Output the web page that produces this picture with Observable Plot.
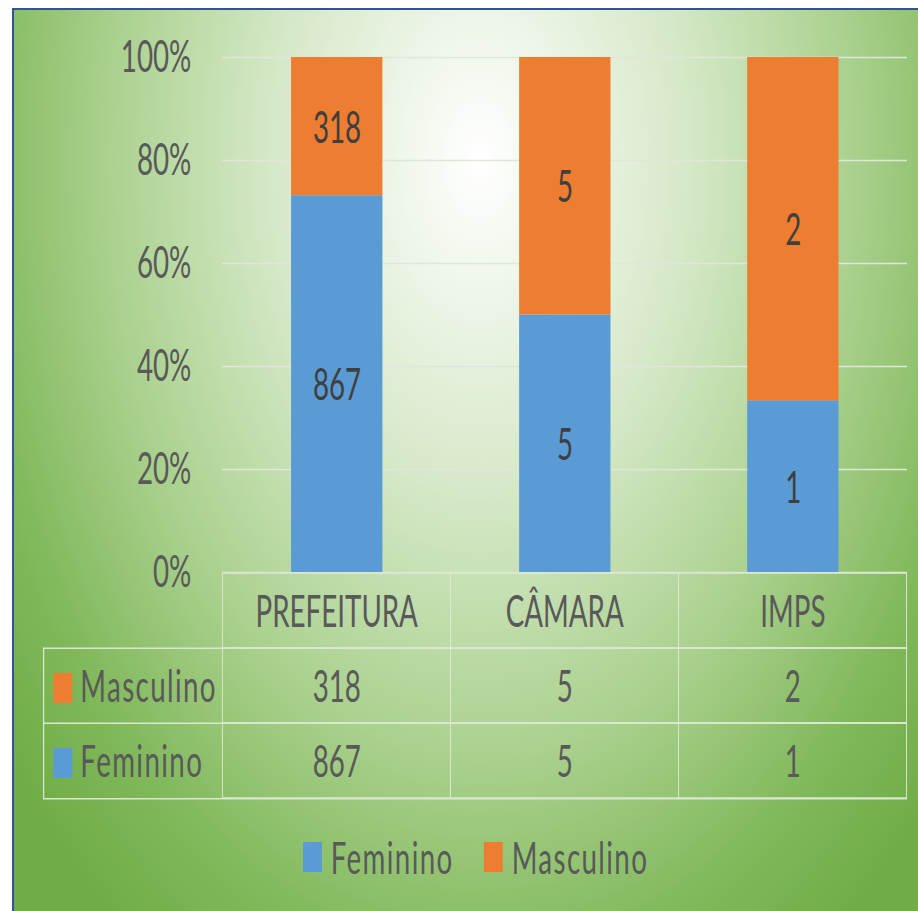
<!DOCTYPE html>
<html><head><meta charset="utf-8">
<script src="https://cdn.jsdelivr.net/npm/d3@7"></script>
<script src="https://cdn.jsdelivr.net/npm/@observablehq/plot@0.6"></script>
<style>
html,body{margin:0;padding:0;background:#fff;}
#page{position:relative;width:918px;height:911px;overflow:hidden;background:#fff;}
#bg{position:absolute;left:12px;top:8px;right:0;bottom:0;border-left:2px solid #2f5597;border-top:2px solid #2f5597;
  background:radial-gradient(ellipse 600px 960px at 466px 150px,#ffffff 0%,#f1f7ec 12%,#d5e8c7 35%,#aad18e 62%,#80b85a 85%,#70ad47 100%);}
#stage{position:absolute;left:0;top:0;height:911px;transform-origin:0 0;}
#stage > *{position:absolute;}
#legend span{margin-right:48px !important;letter-spacing:2.2px;}
#legend span > svg{margin-right:14px !important;}
</style></head>
<body><div id="page"><div id="bg"></div><div id="stage"></div></div>
<script>
// ---- data ----
const categories = ["PREFEITURA", "CÂMARA", "IMPS"];
const series = ["Feminino", "Masculino"];
const feminino = [867, 5, 1];
const masculino = [318, 5, 2];
const colors = ["#5b9bd5", "#ed7d31"];
const yTicks = [0, 0.2, 0.4, 0.6, 0.8, 1];
const tableRows = ["header", "Masculino", "Feminino"];

// ---- layout (reference is horizontally condensed) ----
const S = 0.63;               // horizontal squash factor
const W = 918 / S;            // logical width
const L = v => v / S;         // actual px -> logical px
const mL = L(222), mR = W - L(907);
const font = "Lato, 'Open Sans', sans-serif";
const textCol = "#595959";
const gridCol = "#dfe6da";
const lineCol = "#dbe8d1";

const stage = document.getElementById("stage");
stage.style.width = W + "px";
stage.style.transform = `scaleX(${S})`;

const data = categories.flatMap((c, i) => [
  {cat: c, sex: "Feminino", value: feminino[i]},
  {cat: c, sex: "Masculino", value: masculino[i]}
]);

// ---- main chart ----
const chart = Plot.plot({
  width: W, height: 600,
  marginLeft: mL, marginRight: mR, marginTop: 57, marginBottom: 28,
  style: {fontFamily: font, fontSize: "44px", color: textCol, background: "transparent", overflow: "visible"},
  x: {domain: categories, paddingInner: 0.6, paddingOuter: 0.3, axis: null},
  y: {domain: [0, 1], ticks: yTicks, tickFormat: d3.format(".0%"), tickSize: 0, tickPadding: L(31), label: null},
  color: {domain: series, range: colors},
  marks: [
    Plot.ruleY(yTicks, {stroke: gridCol, strokeWidth: 1.5}),
    Plot.barY(data, Plot.stackY({x: "cat", y: "value", fill: "sex", offset: "normalize"})),
    Plot.text(data, Plot.stackY({x: "cat", y: "value", z: "sex", offset: "normalize",
      text: d => String(d.value), fill: "#3f3f3f", fontSize: 44, dy: 2}))
  ]
});
chart.style.left = "0px"; chart.style.top = "0px";
stage.appendChild(chart);

// ---- data table ----
const tableH = 227;
const rowH = tableH / tableRows.length;
const step = (W - mL - mR) / categories.length;
const leftCol = L(222 - 43);
const cells = tableRows.flatMap(r => categories.map(c => ({cat: c, row: r})));
const tableVals = categories.flatMap((c, i) => [
  {cat: c, row: "Masculino", value: masculino[i]},
  {cat: c, row: "Feminino", value: feminino[i]}
]);
const table = Plot.plot({
  width: W, height: tableH,
  marginLeft: mL, marginRight: mR, marginTop: 0, marginBottom: 0,
  style: {fontFamily: font, fontSize: "44px", color: textCol, background: "transparent", overflow: "visible"},
  x: {domain: categories, padding: 0, axis: null},
  y: {domain: tableRows, padding: 0, axis: null},
  color: {domain: series, range: colors},
  marks: [
    Plot.cell(cells, {x: "cat", y: "row", fill: "none", stroke: lineCol, strokeWidth: 1.5}),
    Plot.ruleY(["Masculino", "Feminino"], {y: d => d, dy: -rowH / 2, insetLeft: -leftCol, stroke: lineCol, strokeWidth: 1.5}),
    Plot.ruleY(["Feminino"], {y: d => d, dy: rowH / 2, insetLeft: -leftCol, stroke: lineCol, strokeWidth: 1.5}),
    Plot.ruleX([categories[0]], {x: d => d, dx: -step / 2 - leftCol, insetTop: rowH, stroke: lineCol, strokeWidth: 2}),
    Plot.text(categories, {x: d => d, y: () => "header", text: d => d, fontSize: 44, fill: textCol, dy: 2}),
    Plot.text(tableVals, {x: "cat", y: "row", text: d => String(d.value), fontSize: 44, fill: textCol, dy: 2}),
    Plot.dot(["Masculino", "Feminino"], {y: d => d, frameAnchor: "left", dx: -L(222 - 62.5), dy: 2,
      symbol: "square", r: 17, fill: d => d}),
    Plot.text(["Masculino", "Feminino"], {y: d => d, text: d => d, frameAnchor: "left", textAnchor: "start",
      dx: -L(222 - 80), dy: 2, fontSize: 44, fill: textCol})
  ]
});
// widen lowercase labels slightly to match the reference face
table.querySelectorAll("text").forEach(t => {
  if (series.includes(t.textContent)) t.setAttribute("letter-spacing", "2.2");
});
table.style.left = "0px"; table.style.top = "572px";
stage.appendChild(table);

// ---- legend ----
const legend = Plot.legend({
  color: {domain: series, range: colors},
  legend: "swatches", swatchSize: 30,
  style: {fontFamily: font, fontSize: "44px", color: textCol, background: "transparent", minHeight: "53px"}
});
legend.id = "legend";
legend.style.left = L(303) + "px";
legend.style.top = "830px";
legend.style.margin = "0";
stage.appendChild(legend);
</script>
</body></html>
